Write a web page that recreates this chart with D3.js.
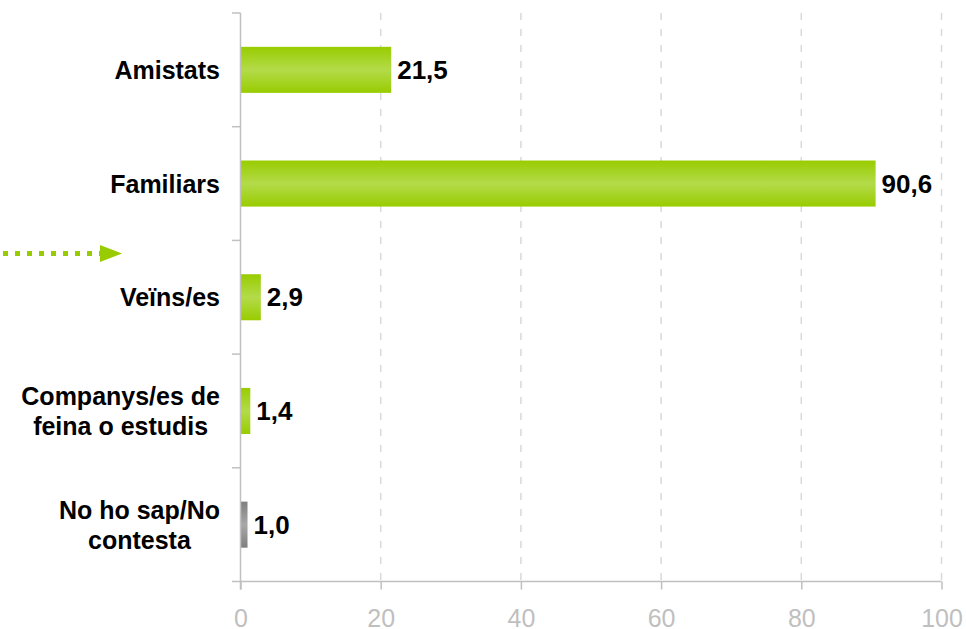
<!DOCTYPE html>
<html>
<head>
<meta charset="utf-8">
<script src="https://cdnjs.cloudflare.com/ajax/libs/d3/7.8.5/d3.min.js"></script>
<style>
body{margin:0;background:#fff;}
svg{display:block;font-family:"Liberation Sans",Arial,sans-serif;}
</style>
</head>
<body>
<div id="chart"></div>
<script>
var w = 966;
var h = 629;

// data
var categories = ["Amistats","Familiars","Veïns/es","Companys/es de feina o estudis","No ho sap/No contesta"];
var labelLines = [["Amistats"],["Familiars"],["Veïns/es"],["Companys/es de","feina o estudis"],["No ho sap/No","contesta"]];
var values = [21.5, 90.6, 2.9, 1.4, 1.0];
var barKind = ["green","green","green","green","gray"];
var xTicks = [0,20,40,60,80,100];

var xScale = d3.scaleLinear()
  .domain([0, 100])
  .range([240.5, 941.5]);

var yScale = d3.scaleBand()
  .domain(categories)
  .range([13, 581.5])
  .paddingInner(0.595)
  .paddingOuter(0.2975);

var svg = d3.select("#chart").append("svg")
  .attr("width", w)
  .attr("height", h);

var defs = svg.append("defs");
function addGrad(id, edge, mid){
  var g = defs.append("linearGradient").attr("id", id)
    .attr("x1", 0).attr("y1", 0).attr("x2", 0).attr("y2", 1);
  g.append("stop").attr("offset", "0%").attr("stop-color", edge);
  g.append("stop").attr("offset", "50%").attr("stop-color", mid);
  g.append("stop").attr("offset", "100%").attr("stop-color", edge);
}
addGrad("green", "#99cc00", "#b3db4a");
addGrad("gray", "#7f7f7f", "#a8a8a8");

// gridlines
svg.selectAll(".grid")
  .data(xTicks.slice(1))
  .enter().append("line")
  .attr("class", "grid")
  .attr("x1", function(d){ return xScale(d); })
  .attr("x2", function(d){ return xScale(d); })
  .attr("y1", 13)
  .attr("y2", 581.5)
  .attr("stroke", "#d9d9d9")
  .attr("stroke-width", 1.5)
  .attr("stroke-dasharray", "7,9");

// bars
svg.selectAll(".bar")
  .data(values)
  .enter().append("rect")
  .attr("class", "bar")
  .attr("x", xScale(0) + 0.5)
  .attr("y", function(d, i){ return yScale(categories[i]); })
  .attr("width", function(d){ return xScale(d) - xScale(0) - 0.5; })
  .attr("height", yScale.bandwidth())
  .attr("fill", function(d, i){ return "url(#" + barKind[i] + ")"; });

// value labels
svg.selectAll(".val")
  .data(values)
  .enter().append("text")
  .attr("class", "val")
  .attr("x", function(d){ return xScale(d) + 6; })
  .attr("y", function(d, i){ return yScale(categories[i]) + yScale.bandwidth()/2 + 9; })
  .attr("font-size", 26)
  .attr("font-weight", "bold")
  .attr("fill", "#000")
  .text(function(d){ return d.toFixed(1).replace(".", ","); });

// bottom axis
var xAxis = svg.append("g")
  .attr("transform", "translate(0,581.5)")
  .call(d3.axisBottom(xScale).tickValues(xTicks).tickSize(8).tickFormat(function(d){ return d; }));
xAxis.select(".domain").remove();
xAxis.append("line")
  .attr("x1", 232).attr("x2", xScale(100))
  .attr("stroke", "#c0c0c0").attr("stroke-width", 1.5);
xAxis.selectAll(".tick line").attr("stroke", "#c0c0c0").attr("stroke-width", 1.5);
xAxis.selectAll(".tick text")
  .attr("y", 45)
  .attr("dy", 0)
  .attr("font-size", 25)
  .attr("font-family", "Liberation Sans, Arial, sans-serif")
  .attr("fill", "#bfbfbf");

// left axis
var yEdges = categories.map(function(c){ return yScale(c) - yScale.step()*yScale.paddingOuter(); });
svg.append("line")
  .attr("x1", 240.5).attr("x2", 240.5)
  .attr("y1", 13).attr("y2", 589.5)
  .attr("stroke", "#c0c0c0").attr("stroke-width", 1.5);
svg.selectAll(".ytick")
  .data(yEdges)
  .enter().append("line")
  .attr("class", "ytick")
  .attr("x1", 232).attr("x2", 240.5)
  .attr("y1", function(d){ return d; })
  .attr("y2", function(d){ return d; })
  .attr("stroke", "#c0c0c0").attr("stroke-width", 1.5);

// category labels (lines centred, block right-aligned)
labelLines.forEach(function(lines, i){
  var cy = yScale(categories[i]) + yScale.bandwidth()/2;
  var lh = 30;
  var g = svg.append("g");
  var texts = lines.map(function(line, j){
    return g.append("text")
      .attr("y", cy + 9 + (j - (lines.length - 1)/2)*lh)
      .attr("font-size", 25)
      .attr("font-weight", "bold")
      .attr("fill", "#000")
      .attr("text-anchor", "middle")
      .text(line);
  });
  var maxW = d3.max(texts, function(t){ return t.node().getComputedTextLength(); });
  texts.forEach(function(t){ t.attr("x", 220 - maxW/2); });
});

// dotted arrow
svg.append("line")
  .attr("x1", 3).attr("x2", 104)
  .attr("y1", 253.5).attr("y2", 253.5)
  .attr("stroke", "#99cc00")
  .attr("stroke-width", 5)
  .attr("stroke-dasharray", "5,7");
svg.append("path")
  .attr("d", "M100,245 L122,253.5 L100,262 Z")
  .attr("fill", "#99cc00");
</script>
</body>
</html>
